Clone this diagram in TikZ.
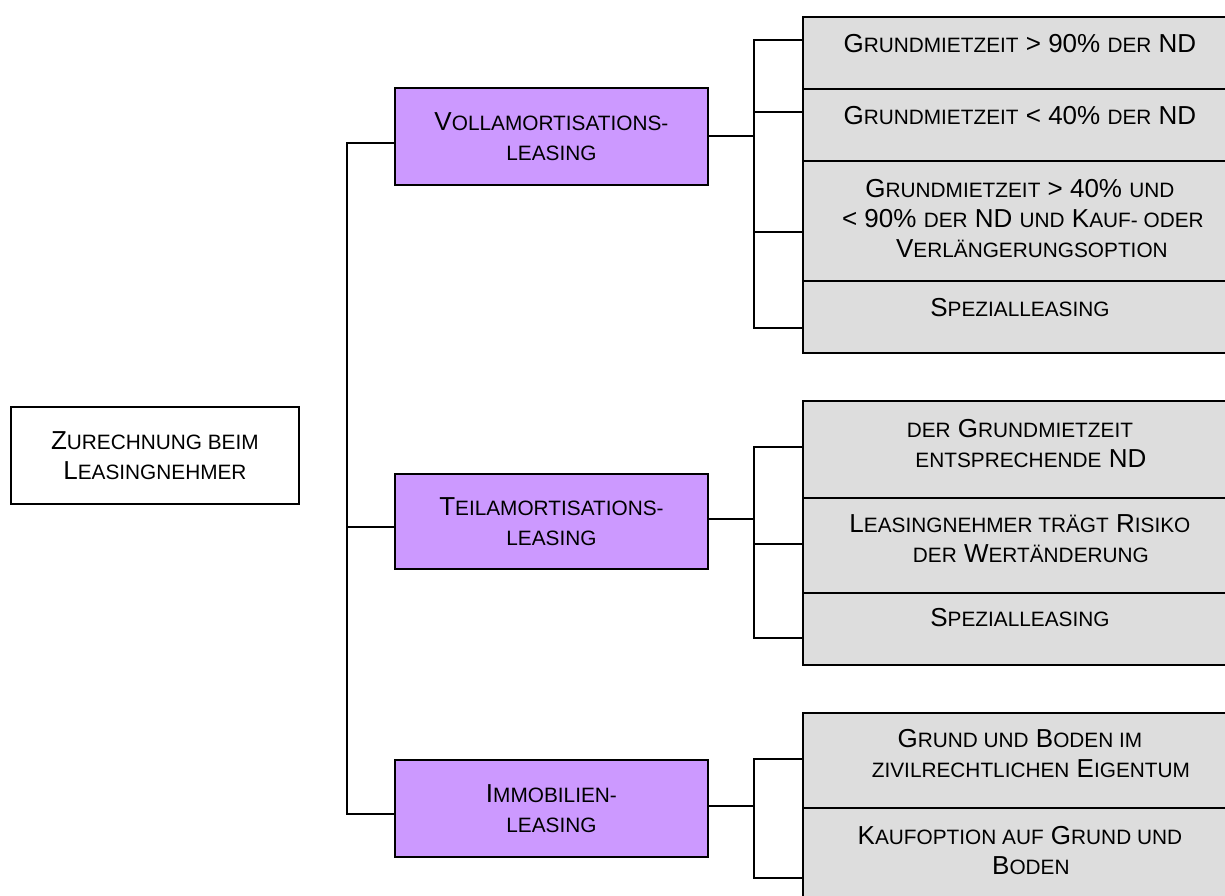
\documentclass[tikz,border=0pt]{standalone}
\usepackage{fontspec}
\setmainfont{Liberation Sans}
% lower-case letters set as smaller capitals
\newcommand\smc[1]{{\fontsize{20.8}{30}\selectfont #1}}
\definecolor{leasepurple}{HTML}{CC99FF}
\definecolor{critgrey}{HTML}{DDDDDD}

\begin{document}
\begin{tikzpicture}[x=1pt,y=-1pt,
  every node/.style={font=\fontsize{26}{30}\selectfont, align=center, inner sep=0pt, text=black},
  frame/.style={draw=black, line width=1.8pt, anchor=north west},
  rootbox/.style={frame, fill=white, minimum width=288pt, minimum height=97pt},
  typebox/.style={frame, fill=leasepurple, minimum width=313pt},
  critbox/.style={frame, fill=critgrey, minimum width=434pt},
  crittext/.style={anchor=north},
  conn/.style={draw=black, line width=1.8pt}]

\useasboundingbox (0,0) rectangle (1225,896);

% root
\node[rootbox] (root) at (10,406) {Z\smc{URECHNUNG BEIM}\\L\smc{EASINGNEHMER}};

% leasing types
\node[typebox, minimum height=97pt] (voll) at (394,87) {V\smc{OLLAMORTISATIONS-}\\\smc{LEASING}};
\node[typebox, minimum height=95pt] (teil) at (394,473) {T\smc{EILAMORTISATIONS-}\\\smc{LEASING}};
\node[typebox, minimum height=97pt] (immo) at (394,759) {I\smc{MMOBILIEN-}\\\smc{LEASING}};

% criteria: Vollamortisation
\node[critbox, minimum height=72pt]  (r11) at (802,16) {};
\node[critbox, minimum height=72pt]  (r12) at (802,88) {};
\node[critbox, minimum height=120pt] (r13) at (802,160) {};
\node[critbox, minimum height=72pt]  (r14) at (802,280) {};
% criteria: Teilamortisation
\node[critbox, minimum height=97pt] (r21) at (802,400) {};
\node[critbox, minimum height=95pt] (r22) at (802,497) {};
\node[critbox, minimum height=72pt] (r23) at (802,592) {};
% criteria: Immobilien
\node[critbox, minimum height=95pt] (r31) at (802,712) {};
\node[critbox, minimum height=95pt] (r32) at (802,807) {};

% criteria texts
\node[crittext] (t11) at ([yshift=-15pt]r11.north) {\strut G\smc{RUNDMIETZEIT} > 90\% \smc{DER} ND};
\node[crittext] (t12) at ([yshift=-15pt]r12.north) {\strut G\smc{RUNDMIETZEIT} < 40\% \smc{DER} ND};
\node[crittext] (t13) at ([yshift=-16pt]r13.north) {\strut G\smc{RUNDMIETZEIT} > 40\% \smc{UND}\\
  \hspace*{6pt}\strut < 90\% \smc{DER} ND \smc{UND} K\smc{AUF- ODER}\\
  \hspace*{24pt}\strut V\smc{ERLÄNGERUNGSOPTION}};
\node[crittext] (t14) at ([yshift=-15pt]r14.north) {\strut S\smc{PEZIALLEASING}};

\node[crittext] (t21) at ([yshift=-16pt]r21.north) {\strut\smc{DER} G\smc{RUNDMIETZEIT}\\
  \hspace*{22pt}\strut\smc{ENTSPRECHENDE} ND};
\node[crittext] (t22) at ([yshift=-14pt]r22.north) {\strut L\smc{EASINGNEHMER TRÄGT} R\smc{ISIKO}\\
  \hspace*{22pt}\strut\smc{DER} W\smc{ERTÄNDERUNG}};
\node[crittext] (t23) at ([yshift=-13pt]r23.north) {\strut S\smc{PEZIALLEASING}};

\node[crittext] (t31) at ([yshift=-14pt]r31.north) {\strut G\smc{RUND UND} B\smc{ODEN IM}\\
  \hspace*{22pt}\strut\smc{ZIVILRECHTLICHEN} E\smc{IGENTUM}};
\node[crittext] (t32) at ([yshift=-16pt]r32.north) {\strut K\smc{AUFOPTION AUF} G\smc{RUND UND}\\
  \hspace*{22pt}\strut B\smc{ODEN}};

% connector rails
\coordinate (trunk) at (347,0);
\coordinate (rail) at (754,0);

% trunk to the leasing types
\draw[conn] (voll.west |- 0,143) -| (trunk |- 0,814) -- (immo.west |- 0,814);
\draw[conn] (trunk |- 0,527) -- (teil.west |- 0,527);

% Vollamortisation bracket
\draw[conn] (voll.east |- 0,136) -- (rail |- 0,136);
\draw[conn] (r11.west |- 0,40) -| (rail |- 0,328) -- (r14.west |- 0,328);
\draw[conn] (rail |- 0,112) -- (r12.west |- 0,112);
\draw[conn] (rail |- 0,232) -- (r13.west |- 0,232);

% Teilamortisation bracket
\draw[conn] (teil.east |- 0,519) -- (rail |- 0,519);
\draw[conn] (r21.west |- 0,447) -| (rail |- 0,638) -- (r23.west |- 0,638);
\draw[conn] (rail |- 0,544) -- (r22.west |- 0,544);

% Immobilien bracket
\draw[conn] (immo.east |- 0,806) -- (rail |- 0,806);
\draw[conn] (r31.west |- 0,759) -| (rail |- 0,878) -- (r32.west |- 0,878);
\end{tikzpicture}
\end{document}
